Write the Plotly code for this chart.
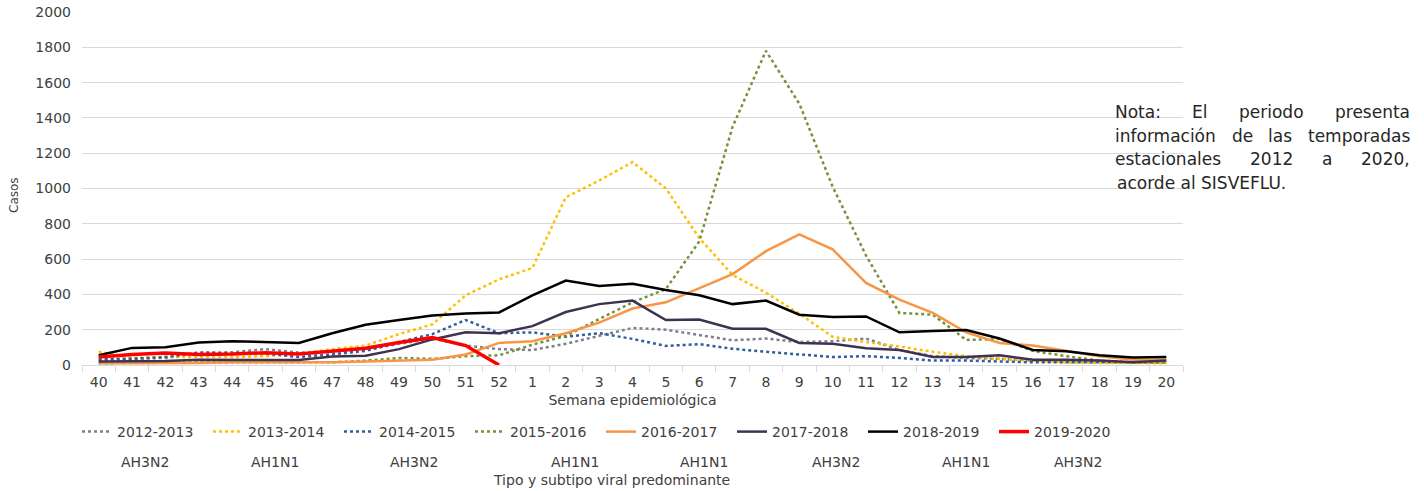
import plotly.graph_objects as go

weeks = [str(w) for w in range(40, 53)] + [str(w) for w in range(1, 21)]

s2012_2013 = [35, 35, 40, 70, 72, 90, 70, 75, 85, 120, 150, 110, 90, 85, 120, 165, 210, 200, 170, 140, 150, 130, 135, 150, 85, 50, 40, 35, 25, 25, 20, 15, 15]
s2013_2014 = [75, 40, 45, 45, 45, 50, 65, 90, 110, 175, 230, 395, 485, 550, 950, 1045, 1150, 1000, 720, 510, 410, 290, 160, 130, 105, 75, 50, 35, 25, 15, 12, 10, 10]
s2014_2015 = [30, 35, 45, 70, 65, 65, 45, 60, 80, 130, 175, 255, 180, 185, 160, 180, 148, 108, 118, 92, 75, 58, 45, 50, 40, 25, 25, 20, 15, 15, 15, 15, 15]
s2015_2016 = [10, 12, 15, 15, 15, 15, 15, 15, 25, 40, 35, 50, 55, 115, 165, 260, 355, 430, 700, 1350, 1780, 1480, 1010, 620, 295, 285, 142, 147, 80, 50, 25, 15, 15]
s2016_2017 = [10, 10, 10, 12, 15, 15, 15, 15, 20, 25, 30, 60, 125, 135, 180, 240, 320, 355, 435, 515, 645, 740, 655, 465, 370, 295, 185, 125, 110, 80, 50, 30, 30]
s2017_2018 = [20, 20, 22, 30, 30, 32, 28, 48, 52, 90, 145, 185, 180, 220, 300, 345, 365, 255, 258, 205, 205, 125, 120, 95, 85, 45, 45, 55, 30, 30, 25, 15, 25]
s2018_2019 = [55, 97, 100, 128, 135, 130, 125, 180, 228, 255, 280, 292, 298, 395, 478, 448, 460, 425, 395, 345, 365, 285, 272, 275, 185, 192, 198, 150, 85, 78, 55, 42, 46]
s2019_2020 = [45, 60, 68, 60, 62, 70, 62, 78, 95, 128, 155, 110, 0]

series = [
    ("2012-2013", s2012_2013, "#7f7f8c", "dot", 2.5),
    ("2013-2014", s2013_2014, "#ffc000", "dot", 2.5),
    ("2014-2015", s2014_2015, "#2e5f9e", "dot", 2.5),
    ("2015-2016", s2015_2016, "#76923c", "dot", 2.5),
    ("2016-2017", s2016_2017, "#f79646", "solid", 2.5),
    ("2017-2018", s2017_2018, "#3f3151", "solid", 2.5),
    ("2018-2019", s2018_2019, "#000000", "solid", 2.5),
    ("2019-2020", s2019_2020, "#ff0000", "solid", 3.5),
]

subtypes = ["AH3N2", "AH1N1", "AH3N2", "AH1N1", "AH1N1", "AH3N2", "AH1N1", "AH3N2"]
subtype_px = [145, 275, 414, 575, 704, 836, 966, 1078]

note_lines = [
    "Nota: El periodo presenta",
    "información de las temporadas",
    "estacionales 2012 a 2020,",
    "acorde al SISVEFLU.",
]

FONT = "DejaVu Sans"
TXT = "#404040"

fig = go.Figure()
for name, vals, color, dash, w in series:
    fig.add_trace(go.Scatter(
        x=weeks[:len(vals)], y=vals, name=name, mode="lines",
        line=dict(color=color, dash=dash, width=w),
    ))

L, R, T, B = 82, 1183, 12, 365
W, H = 1424, 491
def px(x):
    return (x - L) / (R - L)
def py(y):
    return (B - y) / (B - T)

ann = []
for lab, xp in zip(subtypes, subtype_px):
    ann.append(dict(x=px(xp), y=py(462), xref="paper", yref="paper", text=lab,
                    showarrow=False, xanchor="center", yanchor="middle",
                    font=dict(size=14, color=TXT, family=FONT)))
ann.append(dict(x=px(611), y=py(480), xref="paper", yref="paper",
                text="Tipo y subtipo viral predominante", showarrow=False,
                xanchor="center", yanchor="middle", font=dict(size=14, color=TXT, family=FONT)))
ann.append(dict(x=px(14), y=py(195), xref="paper", yref="paper", text="Casos",
                showarrow=False, textangle=-90, xanchor="center", yanchor="middle",
                font=dict(size=12, color=TXT, family=FONT)))

# approximate DejaVu Sans advance widths (em) for justifying the note text
CW = {'a': .613, 'b': .635, 'c': .550, 'd': .635, 'e': .615, 'f': .352, 'g': .635, 'h': .634,
      'i': .278, 'l': .278, 'm': .974, 'n': .634, 'o': .612, 'p': .635, 'r': .411, 's': .521,
      't': .392, 'u': .634, 'ó': .612, ':': .337, ',': .318, '.': .318, ' ': .318,
      'N': .748, 'S': .635, 'I': .295, 'V': .684, 'E': .632, 'F': .575, 'L': .557, 'U': .732}
def tw(s, size):
    return sum(CW.get(ch, .636) for ch in s) * size

NSIZE = 17
NX0, NX1 = 1115, 1410
for i, line in enumerate(note_lines):
    yp = 112 + 23.7 * i
    words = line.split(" ")
    if i == len(note_lines) - 1:
        ann.append(dict(x=px(NX0), y=py(yp), xref="paper", yref="paper", text=line,
                        showarrow=False, xanchor="left", yanchor="middle",
                        font=dict(size=NSIZE, color="#262626", family=FONT)))
        continue
    widths = [tw(w_, NSIZE) for w_ in words]
    gap = (NX1 - NX0 - sum(widths)) / (len(words) - 1)
    xc = NX0
    for w_, wd in zip(words, widths):
        ann.append(dict(x=px(xc + wd / 2), y=py(yp), xref="paper", yref="paper", text=w_,
                        showarrow=False, xanchor="center", yanchor="middle",
                        font=dict(size=NSIZE, color="#262626", family=FONT)))
        xc += wd + gap

fig.update_layout(
    width=W, height=H,
    margin=dict(l=L, r=W - R, t=T, b=H - B, autoexpand=False),
    paper_bgcolor="white", plot_bgcolor="white",
    font=dict(family=FONT, size=14, color=TXT),
    showlegend=True,
    legend=dict(orientation="h", x=px(77), xanchor="left", y=py(432), yanchor="middle",
                entrywidth=86, entrywidthmode="pixels", itemwidth=30,
                font=dict(size=14, color=TXT, family=FONT), traceorder="normal"),
    annotations=ann,
    xaxis=dict(type="category", categoryorder="array", categoryarray=weeks,
               tickson="boundaries", ticks="outside", ticklen=6, tickcolor="#d9d9d9",
               showline=True, linecolor="#d9d9d9", linewidth=1, showgrid=False,
               tickfont=dict(size=14, color=TXT), automargin=False, ticklabelstandoff=4,
               title=dict(text="Semana epidemiológica", font=dict(size=14, color=TXT), standoff=6),
               range=[-0.5, 32.5]),
    yaxis=dict(range=[0, 2000], dtick=200, showgrid=True, gridcolor="#d9d9d9", gridwidth=1,
               zeroline=False, showline=False, tickfont=dict(size=14, color=TXT),
               ticks="", ticklabelstandoff=10, automargin=False),
)

fig.write_html("out.html", config={"displayModeBar": False},
               post_script="document.body.style.margin='0px';")
